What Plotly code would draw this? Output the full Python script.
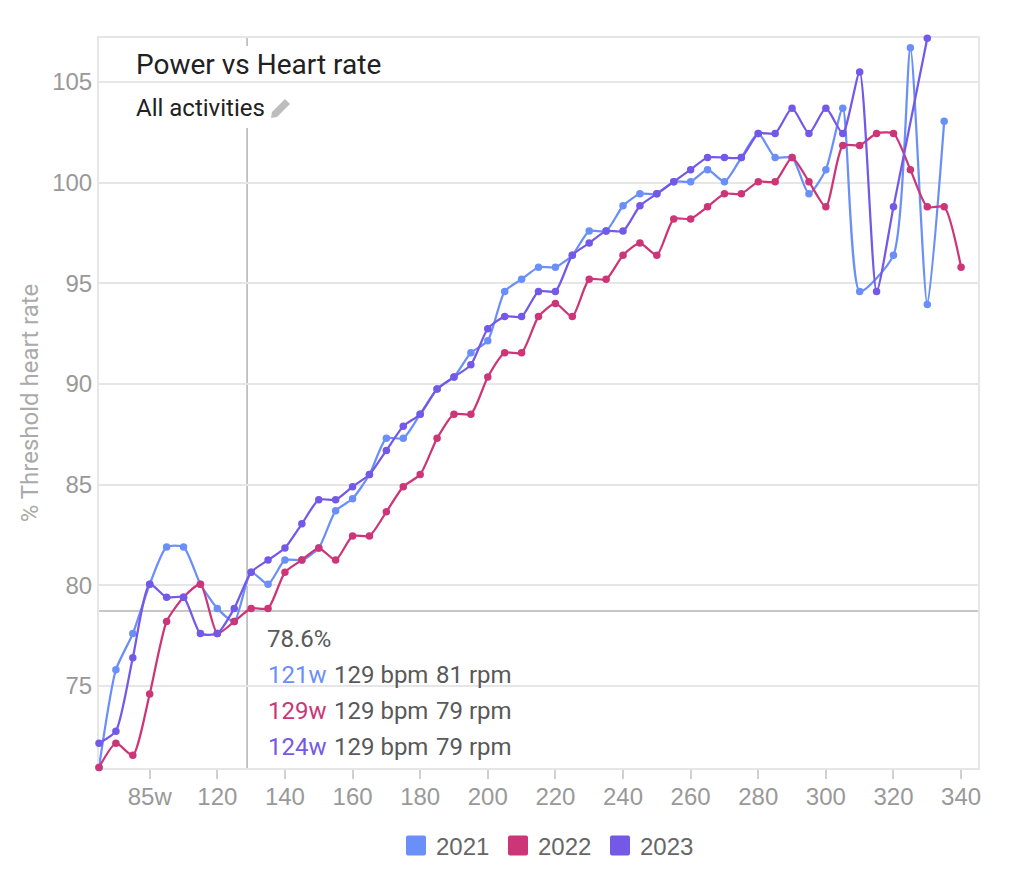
import plotly.graph_objects as go

WIDTH = 1014
HEIGHT = 890
LEFT, RIGHT, TOP, BOTTOM = 99, 978, 38, 768

watts = [85 + 5 * i for i in range(52)]

hr_2021 = [70.95, 75.8, 77.6, 80.05, 81.9, 81.9, 80.05, 78.85, 78.2, 80.65,
           80.05, 81.25, 81.25, 81.85, 83.7, 84.3, 85.5, 87.3, 87.3, 88.5,
           89.75, 90.35, 91.55, 92.15, 94.6, 95.2, 95.8, 95.8, 96.4, 97.6,
           97.6, 98.85, 99.45, 99.45, 100.05, 100.05, 100.65, 100.05, 101.25, 102.45,
           101.25, 101.25, 99.45, 100.65, 103.7, 94.6, None, 96.4, 106.7, 93.95,
           103.05, None]
hr_2022 = [70.95, 72.15, 71.55, 74.6, 78.2, 79.4, 80.05, 77.6, 78.2, 78.85,
           78.85, 80.65, 81.25, 81.85, 81.25, 82.45, 82.45, 83.65, 84.9, 85.5,
           87.3, 88.5, 88.5, 90.35, 91.55, 91.55, 93.35, 94.0, 93.35, 95.2,
           95.2, 96.4, 97.0, 96.4, 98.2, 98.2, 98.8, 99.45, 99.45, 100.05,
           100.05, 101.25, 100.05, 98.8, 101.85, 101.85, 102.45, 102.45, 100.65, 98.8,
           98.8, 95.8]
hr_2023 = [72.15, 72.75, 76.4, 80.05, 79.4, 79.4, 77.6, 77.6, 78.85, 80.65,
           81.25, 81.85, 83.05, 84.25, 84.25, 84.9, 85.5, 86.7, 87.9, 88.5,
           89.75, 90.35, 90.95, 92.75, 93.35, 93.35, 94.6, 94.6, 96.4, 97.0,
           97.6, 97.6, 98.85, 99.45, 100.05, 100.65, 101.25, 101.25, 101.25, 102.45,
           102.45, 103.7, 102.45, 103.7, 102.45, 105.5, 94.6, 98.8, None, 107.18,
           None, None]

years = ["2021", "2022", "2023"]
colors = ["#6b8ff9", "#cc3678", "#7459e8"]
series = [hr_2021, hr_2022, hr_2023]

x_tick_vals = [100, 120, 140, 160, 180, 200, 220, 240, 260, 280, 300, 320, 340]
x_tick_text = ["85w", "120", "140", "160", "180", "200", "220", "240", "260", "280", "300", "320", "340"]
y_tick_vals = [75, 80, 85, 90, 95, 100, 105]

cursor_watts = 128.8
cursor_hr = 78.72
tooltip_head = "78.6%"
tooltip_rows = [("121w", "129 bpm", "81 rpm"), ("129w", "129 bpm", "79 rpm"), ("124w", "129 bpm", "79 rpm")]

ROBOTO = "Roboto, sans-serif"
HELV = "Liberation Sans, Arial, sans-serif"


# "paper" in plotly is the plot area, these turn picture pixels into it
def px(x):
    return (x - LEFT) / (RIGHT - LEFT)


def py(y):
    return (BOTTOM - y) / (BOTTOM - TOP)


def white_box(x0, y0, x1, y1):
    return dict(type="rect", xref="paper", yref="paper", x0=px(x0), x1=px(x1), y0=py(y0), y1=py(y1),
                fillcolor="white", line_width=0, layer="below")


def label(text, x, y, size, color):
    return dict(text=text, x=px(x), y=py(y), xref="paper", yref="paper", xanchor="left", yanchor="middle",
                showarrow=False, xshift=-2, font=dict(family=ROBOTO, size=size, color=color))


fig = go.Figure()
for year, color, values in zip(years, colors, series):
    fig.add_trace(go.Scatter(
        x=watts,
        y=values,
        name=year,
        mode="lines+markers",
        connectgaps=True,
        line=dict(color=color, width=2.25, shape="spline", smoothing=0.6),
        marker=dict(color=color, size=7.5),
        cliponaxis=False,
        showlegend=False,
    ))
for year, color in zip(years, colors):
    # square swatches for the legend
    fig.add_trace(go.Scatter(
        x=[None],
        y=[None],
        name=year,
        mode="markers",
        cliponaxis=False,
        marker=dict(color=color, symbol="square", size=16, line=dict(color=color, width=4)),
    ))

pencil = "M {} {} L {} {} L {} {} L {} {} L {} {} Z".format(
    px(271), py(118), px(272), py(112), px(285), py(99), px(290), py(104), px(277), py(117))

shapes = [
    dict(type="line", xref="x", yref="paper", x0=cursor_watts, x1=cursor_watts, y0=0, y1=1,
         line=dict(color="#b3b3b3", width=1.5), layer="below"),
    dict(type="line", xref="paper", yref="y", x0=0, x1=1, y0=cursor_hr, y1=cursor_hr,
         line=dict(color="#b3b3b3", width=1.5), layer="below"),
    white_box(120, 46, 397, 128),
    white_box(263, 625, 516, 764),
    dict(type="path", xref="paper", yref="paper", path=pencil, fillcolor="#bdbdbd", line_width=0),
]

annotations = [
    label("All activities", 136, 108, 24, "#212121"),
    label(tooltip_head, 267, 639, 24, "#595959"),
]
for i, (row, color) in enumerate(zip(tooltip_rows, colors)):
    row_y = 675 + i * 36
    annotations.append(label(row[0], 268, row_y, 24, color))
    annotations.append(label(row[1], 334, row_y, 24, "#595959"))
    annotations.append(label(row[2], 436, row_y, 24, "#595959"))

fig.update_layout(
    width=WIDTH,
    height=HEIGHT,
    margin=dict(l=LEFT, r=WIDTH - RIGHT, t=TOP, b=HEIGHT - BOTTOM),
    paper_bgcolor="white",
    plot_bgcolor="white",
    title=dict(text="Power vs Heart rate", x=136 / WIDTH, xanchor="left", xref="container",
               y=1 - 64 / HEIGHT, yanchor="middle", font=dict(family=ROBOTO, size=28, color="#212121")),
    shapes=shapes,
    annotations=annotations,
    legend=dict(orientation="h", x=396 / WIDTH, xref="container", xanchor="left", y=1 - 846 / HEIGHT, yref="container",
                yanchor="middle", font=dict(family=HELV, size=24, color="#666666"), itemsizing="trace",
                itemwidth=30, entrywidth=57, tracegroupgap=0),
    hovermode=False,
)
fig.update_xaxes(
    range=[85, 345],
    tickmode="array",
    tickvals=x_tick_vals,
    ticktext=x_tick_text,
    ticks="outside",
    ticklen=9,
    tickwidth=1.5,
    tickcolor="#d0d0d0",
    ticklabelstandoff=-3,
    showgrid=False,
    showline=True,
    mirror=True,
    linecolor="#e6e6e6",
    linewidth=2,
    zeroline=False,
    layer="below traces",
    tickfont=dict(family=HELV, size=24, color="#999999"),
)
fig.update_yaxes(
    range=[70.92, 107.19],
    tickmode="array",
    tickvals=y_tick_vals,
    ticks="",
    showgrid=True,
    gridcolor="#e6e6e6",
    gridwidth=2,
    showline=True,
    mirror=True,
    linecolor="#e6e6e6",
    linewidth=2,
    zeroline=False,
    layer="below traces",
    tickfont=dict(family=HELV, size=24, color="#999999"),
    title=dict(text="% Threshold heart rate", font=dict(family=ROBOTO, size=24, color="#aaaaaa"), standoff=7),
)

# rounded corners on the legend swatches
round_swatches = """
document.body.style.margin = '0';
document.querySelectorAll('.legend .scatterpts').forEach(function (p) { p.style.strokeLinejoin = 'round'; });
"""
fig.write_html("out.html", config={"displayModeBar": False}, post_script=round_swatches)
